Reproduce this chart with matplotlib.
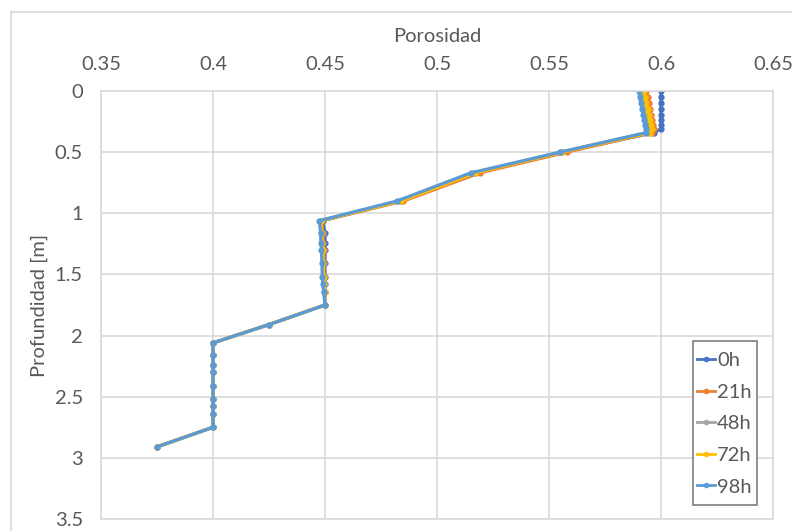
import numpy as np
import matplotlib.pyplot as plt
from matplotlib.lines import Line2D
from matplotlib.patches import Rectangle

plt.rcParams['font.family'] = ['Lato', 'DejaVu Sans']

# Depth of each node [m] (same nodes for all series)
depth = [0.0, 0.05, 0.10, 0.15, 0.20, 0.24, 0.28, 0.31, 0.34,
         0.50, 0.67, 0.90,
         1.06, 1.16, 1.24, 1.30, 1.41, 1.52, 1.58, 1.64, 1.75,
         1.91,
         2.06, 2.16, 2.24, 2.30, 2.41, 2.52, 2.58, 2.64, 2.75,
         2.91]

# Porosity per time step
por_0h = [0.600, 0.600, 0.600, 0.600, 0.600, 0.600, 0.600, 0.600, 0.597,
          0.556, 0.517, 0.484,
          0.449, 0.450, 0.450, 0.450, 0.450, 0.450, 0.450, 0.450, 0.450,
          0.425,
          0.400, 0.400, 0.400, 0.400, 0.400, 0.400, 0.400, 0.400, 0.400,
          0.375]
por_21h = [0.5935, 0.5940, 0.5945, 0.5950, 0.5955, 0.5960, 0.5965, 0.5970, 0.5960,
           0.558, 0.519, 0.485,
           0.4485, 0.4490, 0.4492, 0.4494, 0.4495, 0.4496, 0.4497, 0.4498, 0.450,
           0.425,
           0.400, 0.400, 0.400, 0.400, 0.400, 0.400, 0.400, 0.400, 0.400,
           0.375]
por_48h = [0.5910, 0.5915, 0.5920, 0.5925, 0.5930, 0.5935, 0.5940, 0.5945, 0.5940,
           0.555, 0.516, 0.483,
           0.448, 0.4484, 0.4486, 0.4488, 0.4490, 0.4492, 0.4494, 0.4496, 0.450,
           0.425,
           0.400, 0.400, 0.400, 0.400, 0.400, 0.400, 0.400, 0.400, 0.400,
           0.375]
por_72h = [0.5925, 0.5930, 0.5935, 0.5940, 0.5945, 0.5950, 0.5955, 0.5960, 0.5950,
           0.556, 0.517, 0.484,
           0.448, 0.4486, 0.4488, 0.4490, 0.4492, 0.4494, 0.4496, 0.4498, 0.450,
           0.425,
           0.400, 0.400, 0.400, 0.400, 0.400, 0.400, 0.400, 0.400, 0.400,
           0.375]
por_98h = [0.5900, 0.5905, 0.5910, 0.5915, 0.5920, 0.5925, 0.5930, 0.5935, 0.5935,
           0.555, 0.515, 0.482,
           0.4475, 0.4480, 0.4482, 0.4484, 0.4486, 0.4488, 0.4490, 0.4494, 0.450,
           0.425,
           0.400, 0.400, 0.400, 0.400, 0.400, 0.400, 0.400, 0.400, 0.400,
           0.375]

series_labels = ["0h", "21h", "48h", "72h", "98h"]
series_colors = ["#4472C4", "#ED7D31", "#A5A5A5", "#FFC000", "#5B9BD5"]

x_ticks = [0.35, 0.40, 0.45, 0.50, 0.55, 0.60, 0.65]
x_ticklabels = ["0.35", "0.4", "0.45", "0.5", "0.55", "0.6", "0.65"]
y_ticks = [0, 0.5, 1, 1.5, 2, 2.5, 3, 3.5]
y_ticklabels = ["0", "0.5", "1", "1.5", "2", "2.5", "3", "3.5"]

text_color = "#595959"
grid_color = "#D9D9D9"
fs = 14.5

W, H = 792, 531
fig = plt.figure(figsize=(W / 100, H / 100), dpi=100)
ax = fig.add_axes([101 / W, 1 - 519 / H, (773 - 101) / W, (519 - 91) / H])

all_series = [por_0h, por_21h, por_48h, por_72h, por_98h]
for vals, lab, col in zip(all_series, series_labels, series_colors):
    ax.plot(vals, depth, color=col, lw=2.3, marker='o', markersize=3.5,
            label=lab, solid_joinstyle='round')

ax.set_xlim(0.35, 0.65)
ax.set_ylim(3.5, 0)
ax.xaxis.tick_top()
ax.xaxis.set_label_position('top')
ax.set_xticks(x_ticks, x_ticklabels)
ax.set_yticks(y_ticks, y_ticklabels)
ax.tick_params(length=0, labelsize=fs, labelcolor=text_color)
ax.tick_params(axis='x', pad=13)
ax.tick_params(axis='y', pad=13)
ax.set_xlabel("Porosidad", fontsize=fs, color=text_color, labelpad=10)
ax.set_ylabel("Profundidad [m]", fontsize=fs, color=text_color, labelpad=5)
ax.grid(True, color=grid_color, lw=1.2)
ax.set_axisbelow(True)
for sp in ax.spines.values():
    sp.set_color(grid_color)
    sp.set_linewidth(1.2)

# legend box drawn separately so its size matches the reference
ax.add_patch(Rectangle((693 / W, 1 - 505 / H), 64 / W, 164 / H,
                       transform=fig.transFigure, facecolor='white',
                       edgecolor="#7F7F7F", lw=1.2, zorder=4.5, clip_on=False))

handles = [Line2D([], [], color=c, lw=2, marker='o', markersize=3) for c in series_colors]
leg = ax.legend(handles, series_labels, loc='upper left',
                bbox_to_anchor=(693 / W, 1 - 348 / H),
                bbox_transform=fig.transFigure,
                borderaxespad=0, frameon=False,
                fontsize=fs, handlelength=0.9, handletextpad=0.1,
                labelspacing=0.72, borderpad=0.2)
leg.set_zorder(5)
for t in leg.get_texts():
    t.set_color(text_color)

# outer chart border (top and left visible)
fig.add_artist(Line2D([11 / W, 1], [1 - 12 / H, 1 - 12 / H], color=grid_color, lw=1.2))
fig.add_artist(Line2D([11 / W, 11 / W], [0, 1 - 12 / H], color=grid_color, lw=1.2))

fig.savefig("out.png", dpi=100)
